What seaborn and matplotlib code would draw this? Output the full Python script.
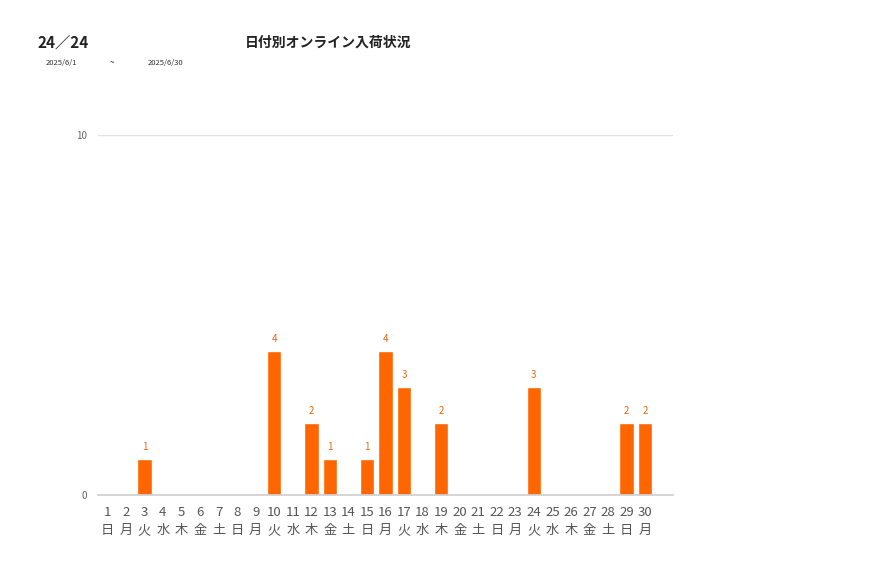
import matplotlib
matplotlib.use("Agg")
import matplotlib.pyplot as plt
import seaborn as sns
import pandas as pd

days = list(range(1, 31))
weekdays = ["日","月","火","水","木","金","土"] * 5
weekdays = weekdays[:30]
values = [0,0,1,0,0,0,0,0,0,4,0,2,1,0,1,4,3,0,2,0,0,0,0,3,0,0,0,0,2,2]

title = "日付別オンライン入荷状況"
count_label = "24／24"
date_from = "2025/6/1"
date_to = "2025/6/30"

sns.set_theme(style="white")
plt.rcParams['font.family'] = ['Noto Sans CJK JP', 'DejaVu Sans']

df = pd.DataFrame({"day": [str(d) for d in days], "value": values})

fig = plt.figure(figsize=(8.77, 5.78), dpi=100)
ax = fig.add_axes([98/877, 1-495/578, (673-98)/877, (495-135)/578])

sns.barplot(data=df, x="day", y="value", color="#FF6600", saturation=1,
            width=0.78, ax=ax, order=[str(d) for d in days])

ax.set_xlim(-0.5, 30.5)
ax.set_ylim(0, 10)
ax.set_yticks([0, 10])
ax.set_yticklabels(["0", "10"], fontsize=7, color="#666666")
ax.set_xticks(range(30))
ax.set_xticklabels([f"{d}\n{w}" for d, w in zip(days, weekdays)],
                   fontsize=9.5, color="#555555", linespacing=1.5)
ax.tick_params(axis="both", length=0, pad=8)
ax.set_xlabel("")
ax.set_ylabel("")
ax.yaxis.grid(True, color="#e0e0e0", linewidth=1)
ax.set_axisbelow(True)
for s in ["top", "right", "left"]:
    ax.spines[s].set_visible(False)
ax.spines["bottom"].set_color("#d0d0d0")

for i, v in enumerate(values):
    if v > 0:
        ax.annotate(str(v), (i, v), xytext=(0, 5), textcoords="offset points",
                    ha="center", va="bottom", fontsize=7, color="#E8650A")

fig.text(37/877, 1-43/578, count_label, fontsize=11, fontweight="bold",
         ha="left", va="center", color="#222222")
fig.text(328/877, 1-43/578, title, fontsize=10, fontweight="bold",
         ha="center", va="center", color="#222222")
fig.text(46/877, 1-63/578, date_from, fontsize=5.5, ha="left", va="center", color="#333333")
fig.text(112/877, 1-63/578, "~", fontsize=6, ha="center", va="center", color="#333333")
fig.text(148/877, 1-63/578, date_to, fontsize=5.5, ha="left", va="center", color="#333333")

fig.savefig("out.png", dpi=100)
